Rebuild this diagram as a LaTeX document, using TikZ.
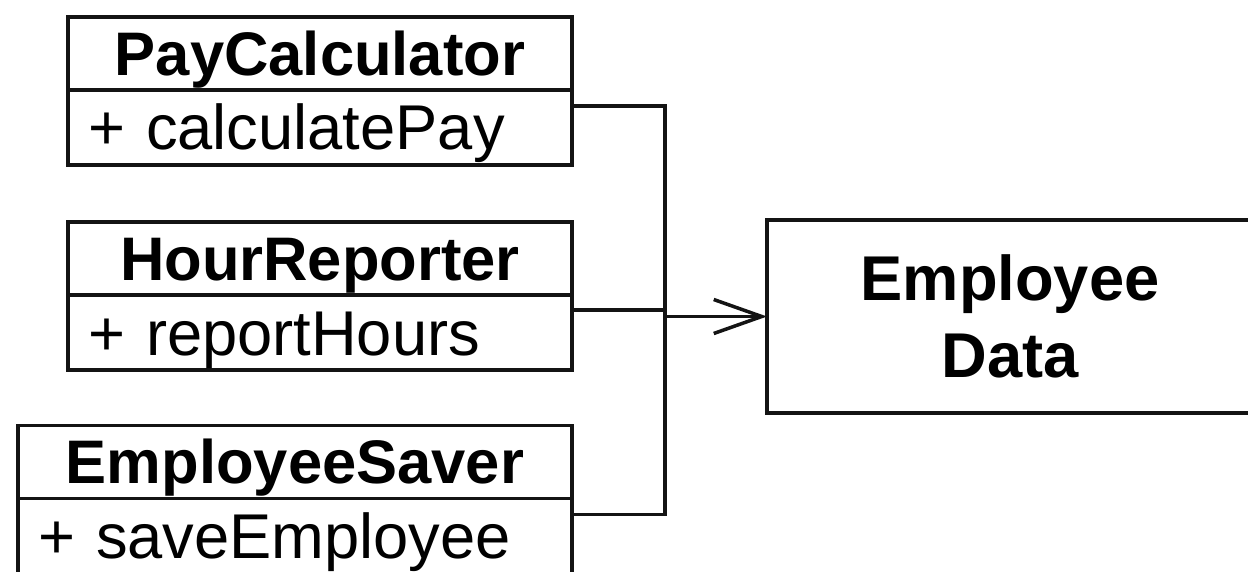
\documentclass[tikz,border=0pt]{standalone}
\usepackage{fontspec}
\setmainfont{Liberation Sans}
\usepackage{xcolor}
\usepackage{tikz}
\usetikzlibrary{positioning,arrows.meta}
\definecolor{ink}{HTML}{141414}
\tikzset{
  clsname/.style={draw=ink, line width=1pt, outer sep=0pt, inner sep=0pt, minimum height=0.73cm,
    text height=12.5pt, text depth=0pt, font=\fontsize{17.5}{21}\selectfont\bfseries},
  clsop/.style={draw=ink, line width=1pt, outer sep=0pt, inner xsep=0.2cm, inner ysep=0pt, minimum height=0.75cm,
    text height=12.8pt, text depth=0pt, align=left, font=\fontsize{18}{21}\selectfont},
  datbox/.style={draw=ink, line width=1pt, outer sep=0pt, align=center, font=\fontsize{18}{22}\selectfont\bfseries},
  conn/.style={draw=ink, line width=1pt},
  opentip/.style={-{Straight Barb[length=4.8mm,width=3.4mm]}},
}

\begin{document}
\begin{tikzpicture}
  \useasboundingbox (0,0) rectangle (12.48,5.71);
  \clip (0,0) rectangle (12.48,5.71);

  \node[clsname, minimum width=5.04cm] (payName) at (3.20,5.175) {PayCalculator};
  \node[clsop, text width=4.64cm, below=0pt of payName] (payOp) {+ calculatePay};
  \node[clsname, minimum width=5.04cm] (hourName) at (3.20,3.125) {HourReporter};
  \node[clsop, text width=4.64cm, below=0pt of hourName] (hourOp) {+ reportHours};
  \node[clsname, minimum width=5.54cm] (saveName) at (2.95,1.09) {EmployeeSaver};
  \node[clsop, text width=5.14cm, below=0pt of saveName] (saveOp) {+ saveEmployee};
  \node[datbox, minimum width=4.86cm, minimum height=1.93cm] (data) at (10.10,2.545) {Employee\\Data};

  \path (data.west) ++(-1.02,0) coordinate (bus);
  \draw[conn] ([yshift=-0.16cm]payOp.north east) -| (bus);
  \draw[conn] ([yshift=-0.15cm]hourOp.north east) -| (bus);
  \draw[conn] ([yshift=-0.16cm]saveOp.north east) -| (bus);
  \draw[conn,opentip] (bus) -- (data.west);
\end{tikzpicture}
\end{document}
